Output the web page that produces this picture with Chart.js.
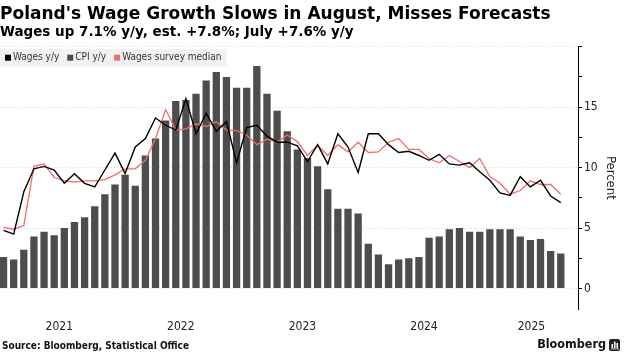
<!DOCTYPE html>
<html>
<head>
<meta charset="utf-8">
<script src="https://cdn.jsdelivr.net/npm/chart.js@4.4.0/dist/chart.umd.min.js"></script>
<style>
  html, body { margin: 0; padding: 0; background: #fff; }
  #wrap { width: 630px; height: 360px; }
</style>
</head>
<body>
<div id="wrap"><canvas id="chart" width="630" height="360"></canvas></div>
<script>
// ===== Data =====
const MONTHS = [
  "2021-01","2021-02","2021-03","2021-04","2021-05","2021-06","2021-07","2021-08","2021-09","2021-10","2021-11","2021-12",
  "2022-01","2022-02","2022-03","2022-04","2022-05","2022-06","2022-07","2022-08","2022-09","2022-10","2022-11","2022-12",
  "2023-01","2023-02","2023-03","2023-04","2023-05","2023-06","2023-07","2023-08","2023-09","2023-10","2023-11","2023-12",
  "2024-01","2024-02","2024-03","2024-04","2024-05","2024-06","2024-07","2024-08","2024-09","2024-10","2024-11","2024-12",
  "2025-01","2025-02","2025-03","2025-04","2025-05","2025-06","2025-07","2025-08"
];

const CPI = [
  2.6, 2.4, 3.2, 4.3, 4.7, 4.4, 5.0, 5.5, 5.9, 6.8, 7.8, 8.6,
  9.4, 8.5, 11.0, 12.4, 13.9, 15.5, 15.6, 16.1, 17.2, 17.9, 17.5, 16.6,
  16.6, 18.4, 16.1, 14.7, 13.0, 11.5, 10.8, 10.1, 8.2, 6.6, 6.6, 6.2,
  3.7, 2.8, 2.0, 2.4, 2.5, 2.6, 4.2, 4.3, 4.9, 5.0, 4.7, 4.7,
  4.9, 4.9, 4.9, 4.3, 4.0, 4.1, 3.1, 2.9
];

const WAGES = [
  4.8, 4.5, 8.0, 9.9, 10.1, 9.8, 8.7, 9.5, 8.7, 8.4, 9.8, 11.2,
  9.5, 11.7, 12.4, 14.1, 13.5, 13.1, 15.7, 12.8, 14.5, 13.0, 13.8, 10.4,
  13.3, 13.5, 12.6, 12.1, 12.1, 11.8, 10.5, 11.9, 10.3, 12.8, 11.7, 9.6,
  12.8, 12.8, 11.9, 11.25, 11.35, 11.0, 10.6, 11.1, 10.3, 10.2, 10.4, 9.65,
  8.95, 7.9, 7.7, 9.25, 8.4, 8.95, 7.65, 7.1
];

const SURVEY = [
  5.05, 4.9, 5.2, 10.1, 10.3, 9.2, 8.9, 8.8, 8.9, 8.9, 9.0, 9.4,
  9.9, 9.9, 10.6, 12.4, 14.8, 13.1, 13.2, 13.6, 13.4, 13.8, 13.1, 13.05,
  12.7, 11.9, 12.35, 12.1, 12.7, 12.15, 11.0, 11.85, 11.0, 11.9, 11.3, 12.1,
  11.25, 11.3, 12.1, 12.4, 11.5, 11.5, 10.75, 10.4, 11.0, 10.5, 10.0, 10.75,
  9.25, 8.7, 7.8, 8.1, 8.9, 8.6, 8.6, 7.8
];

const Y_TICKS = [0, 2.5, 5, 7.5, 10, 12.5, 15, 17.5, 20];

const TITLE = "Poland's Wage Growth Slows in August, Misses Forecasts";
const SUBTITLE = "Wages up 7.1% y/y, est. +7.8%; July +7.6% y/y";
const SOURCE = "Source: Bloomberg, Statistical Office";

// ===== Styling =====
const NARROW = '"Liberation Sans Narrow", "DejaVu Sans Condensed", "Roboto Condensed", sans-serif';
const HEAD = '"DejaVu Sans", sans-serif';
const X_MIN = -0.35, X_MAX = 56.7;

// year labels sit in the middle of each year's span on the axis
function yearTicks(){
  const out = [];
  MONTHS.forEach((m, i) => {
    const yr = m.slice(0, 4);
    const last = out[out.length - 1];
    if (!last || last.label !== yr) out.push({ label: yr, from: i - 0.5, to: i + 0.5 });
    else last.to = i + 0.5;
  });
  out[out.length - 1].to = X_MAX;
  return out.map(t => ({ label: t.label, value: (t.from + t.to) / 2 }));
}
const YEARS = yearTicks();

const toXY = arr => arr.map((v, i) => ({ x: i, y: v }));

// legend drawn inside the plot, top-left, on a grey strip
const legendBox = {
  id: "legendBox",
  beforeDatasetsDraw(chart){
    const ctx = chart.ctx;
    const top = chart.chartArea.top;
    ctx.save();
    ctx.font = "10px " + NARROW;
    const items = chart.data.datasets.map(ds => ({
      label: ds.label,
      color: ds.type === "bar" ? ds.backgroundColor : ds.borderColor
    }));
    let w = 5;
    items.forEach(it => { w += 8 + ctx.measureText(it.label).width + 9; });
    ctx.fillStyle = "#f1f1f1";
    ctx.fillRect(0, top + 2.5, w - 6, 17);
    let x = 5;
    const cy = top + 11;
    items.forEach(it => {
      ctx.fillStyle = it.color;
      ctx.fillRect(x, cy - 3, 6, 6);
      x += 8;
      ctx.fillStyle = "#333";
      ctx.textBaseline = "middle";
      ctx.fillText(it.label, x, cy);
      x += ctx.measureText(it.label).width + 8;
    });
    ctx.restore();
  }
};

const footer = {
  id: "footer",
  afterDraw(chart){
    const ctx = chart.ctx;
    ctx.save();
    ctx.fillStyle = "#111";
    ctx.textBaseline = "middle";
    ctx.font = "bold 10px " + NARROW;
    ctx.fillText(SOURCE, 2, 346);
    ctx.font = "bold 12.5px " + NARROW;
    ctx.textAlign = "right";
    ctx.fillText("Bloomberg", 606, 345);
    // logo mark
    ctx.fillStyle = "#222";
    ctx.beginPath();
    ctx.roundRect(609, 339, 11, 12, 2);
    ctx.fill();
    ctx.fillStyle = "#fff";
    ctx.fillRect(611.5, 344, 1.5, 4);
    ctx.fillRect(614, 341.5, 1.5, 6.5);
    ctx.fillRect(616.5, 343, 1.5, 5);
    ctx.fillRect(611, 348.5, 8, 0.8);
    ctx.restore();
  }
};

new Chart(document.getElementById("chart"), {
  type: "bar",
  data: {
    datasets: [
      {
        type: "line", label: "Wages y/y", data: toXY(WAGES),
        borderColor: "#000", backgroundColor: "#000", borderWidth: 1.4,
        pointRadius: 0, tension: 0, order: 1
      },
      {
        type: "bar", label: "CPI y/y", data: toXY(CPI),
        backgroundColor: "#4d4d4d", borderWidth: 0,
        barPercentage: 0.72, categoryPercentage: 1, order: 3
      },
      {
        type: "line", label: "Wages survey median", data: toXY(SURVEY),
        borderColor: "#f26b6d", backgroundColor: "#f26b6d", borderWidth: 1.3,
        pointRadius: 0, tension: 0, order: 2
      }
    ]
  },
  options: {
    responsive: false,
    devicePixelRatio: 1,
    animation: false,
    events: [],
    layout: { padding: { left: 0, right: 0, top: 0, bottom: 25 } },
    plugins: {
      legend: { display: false },
      tooltip: { enabled: false },
      title: {
        display: true, text: TITLE, align: "start", color: "#000",
        font: { family: HEAD, size: 17, weight: "bold", lineHeight: 1.1 },
        padding: { top: 4.8, bottom: 0 }
      },
      subtitle: {
        display: true, text: SUBTITLE, align: "start", color: "#000",
        font: { family: HEAD, size: 13.5, weight: "bold", lineHeight: 1.2 },
        padding: { top: 0.5, bottom: 6.5 }
      }
    },
    scales: {
      x: {
        type: "linear", min: X_MIN, max: X_MAX, offset: false,
        afterBuildTicks: s => { s.ticks = YEARS.map(t => ({ value: t.value })); },
        afterFit: s => { s.height = 26; },
        grid: { display: false, drawTicks: false, offset: false },
        border: { display: false },
        ticks: {
          autoSkip: false, maxRotation: 0, padding: 11, color: "#222",
          font: { family: NARROW, size: 12 },
          callback: (v, i) => YEARS[i] ? YEARS[i].label : ""
        }
      },
      y: {
        type: "linear", position: "right", min: -1.7, max: 20,
        afterBuildTicks: s => { s.ticks = Y_TICKS.map(v => ({ value: v })); },
        afterFit: s => { s.width = 52; },
        grid: {
          color: c => (c.tick && c.tick.value % 5 === 0) ? "#d4d4d4" : "rgba(0,0,0,0)",
          tickColor: "#000", tickLength: 4, lineWidth: 1
        },
        border: { display: true, color: "#000", width: 1, dash: [1, 2] },
        ticks: {
          padding: 2, color: "#222", font: { family: NARROW, size: 12 },
          callback: v => (v % 5 === 0 && v < 20) ? String(v) : ""
        },
        title: {
          display: true, text: "Percent", color: "#222",
          font: { family: NARROW, size: 13 },
          padding: { top: 12, bottom: 0 }
        }
      }
    }
  },
  plugins: [legendBox, footer]
});
</script>
</body>
</html>
